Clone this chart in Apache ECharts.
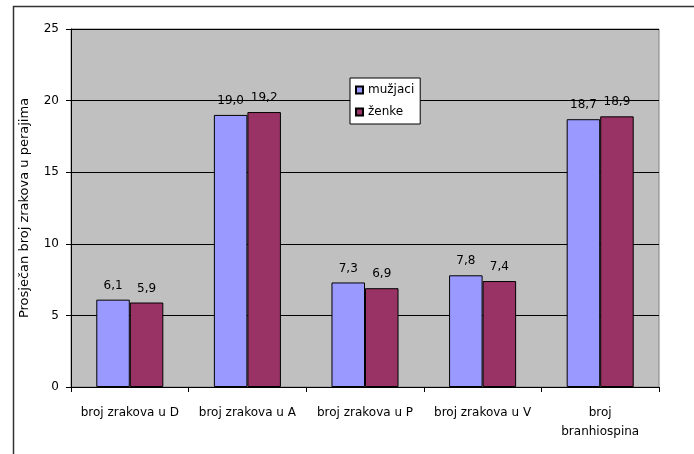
<!DOCTYPE html>
<html><head><meta charset="utf-8">
<script src="https://cdn.jsdelivr.net/npm/echarts@6/dist/echarts.min.js"></script>
<style>html,body{margin:0;padding:0;background:#fff}#c{width:694px;height:454px}</style>
</head><body><div id="c"></div>
<script>
const categories = ['broj zrakova u D', 'broj zrakova u A', 'broj zrakova u P', 'broj zrakova u V', 'broj\nbranhiospina'];
const seriesNames = ['mužjaci', 'ženke'];
const muzjaci = [6.1, 19.0, 7.3, 7.8, 18.7];
const zenke = [5.9, 19.2, 6.9, 7.4, 18.9];
const yTicks = [0, 5, 10, 15, 20, 25];

const FONT = '"DejaVu Sans", sans-serif';
const chart = echarts.init(document.getElementById('c'));
const lbl = {
  show: true, position: 'top', distance: 8, color: '#000', fontSize: 12, fontFamily: FONT,
  formatter: p => p.value.toFixed(1).replace('.', ',')
};
chart.setOption({
  animation: false,
  graphic: [{
    type: 'rect', left: 11, top: 4, z: -10,
    shape: { width: 720, height: 480 },
    style: { fill: 'none', stroke: '#333', lineWidth: 1.5 }
  }],
  grid: {
    left: 71, top: 29, width: 588, height: 358, show: true,
    backgroundColor: '#c0c0c0', borderColor: '#808080', borderWidth: 1
  },
  legend: {
    orient: 'vertical', left: 350, top: 78,
    data: seriesNames,
    backgroundColor: '#fff', borderColor: '#000', borderWidth: 1,
    padding: [6, 6, 6, 5], itemGap: 10,
    itemWidth: 7, itemHeight: 7, icon: 'rect',
    textStyle: { fontFamily: FONT, fontSize: 12, color: '#000', padding: [0, 0, 0, 0] }
  },
  xAxis: {
    type: 'category', data: categories,
    axisLine: { lineStyle: { color: '#000', width: 1 } },
    axisTick: { show: true, length: 5, lineStyle: { color: '#000' } },
    axisLabel: { color: '#000', fontFamily: FONT, fontSize: 12, margin: 16, lineHeight: 19, interval: 0 }
  },
  yAxis: {
    type: 'value', min: yTicks[0], max: yTicks[yTicks.length - 1], interval: 5,
    name: 'Prosječan broj zrakova u perajima', nameLocation: 'middle', nameGap: 40,
    nameTextStyle: { color: '#000', fontFamily: FONT, fontSize: 13 },
    axisLine: { show: true, lineStyle: { color: '#000' } },
    axisTick: { show: true, length: 5, lineStyle: { color: '#000' } },
    axisLabel: { color: '#000', fontFamily: FONT, fontSize: 12, margin: 12 },
    splitLine: { show: true, lineStyle: { color: '#000', width: 1 } }
  },
  series: [
    { name: seriesNames[0], type: 'bar', data: muzjaci, barGap: '0%', barCategoryGap: '43%',
      itemStyle: { color: '#9999ff', borderColor: '#000', borderWidth: 1 }, label: lbl },
    { name: seriesNames[1], type: 'bar', data: zenke,
      itemStyle: { color: '#993366', borderColor: '#000', borderWidth: 1 }, label: lbl }
  ]
});
</script></body></html>
